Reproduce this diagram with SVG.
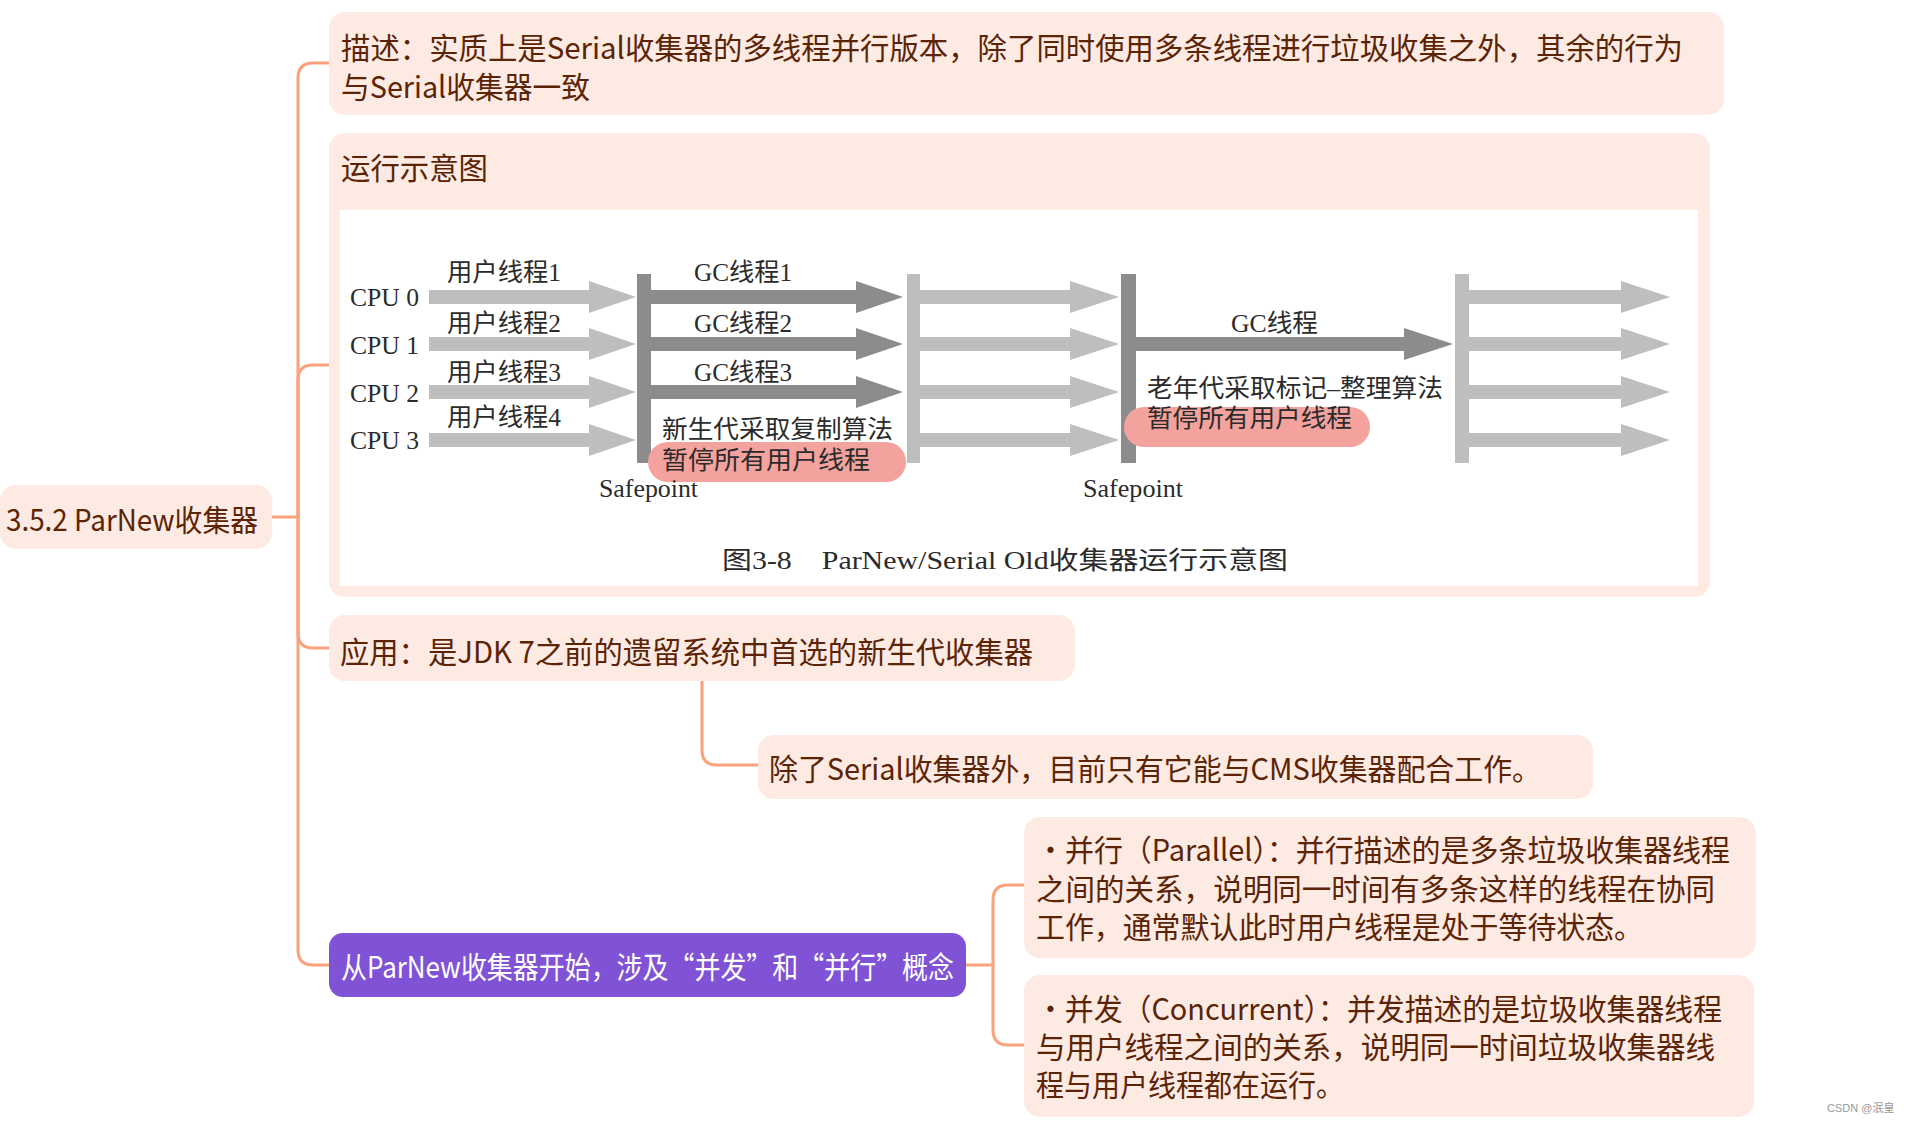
<svg xmlns="http://www.w3.org/2000/svg" width="1910" height="1131" viewBox="0 0 1910 1131">
<style>
.box{fill:#FDEAE2}
.t{font-family:"Noto Sans CJK SC","Noto Sans",sans-serif;font-size:30px;fill:#5B2406;dominant-baseline:central}
.w{fill:#ffffff}
.con{fill:none;stroke:#F9A27C;stroke-width:3;stroke-linecap:round}
.d{font-family:"Liberation Serif","Noto Sans CJK SC",serif;font-size:25px;fill:#2b2b2b;dominant-baseline:central}
.lg{fill:#BEBEBE}
.dg{fill:#8C8C8C}
.pk{fill:#F3A29E}
</style>
<rect width="1910" height="1131" fill="#ffffff"/>
<g id="connectors">
<path class="con" d="M272 517 H298"/>
<path class="con" d="M298 517 V78 Q298 63 313 63 H329"/>
<path class="con" d="M298 517 V380 Q298 365 313 365 H329"/>
<path class="con" d="M298 517 V633 Q298 648 313 648 H330"/>
<path class="con" d="M298 517 V950 Q298 965 313 965 H329"/>
<path class="con" d="M702 681 V750 Q702 765 717 765 H758"/>
<path class="con" d="M966 965 H993"/>
<path class="con" d="M993 965 V900 Q993 885 1008 885 H1024"/>
<path class="con" d="M993 965 V1030 Q993 1045 1008 1045 H1024"/>
</g>
<g id="root">
<rect class="box" x="0" y="485" width="272" height="64" rx="16"/>
<text class="t" x="6" y="518" font-size="28" textLength="252" lengthAdjust="spacingAndGlyphs">3.5.2 ParNew收集器</text>
</g>
<g id="desc">
<rect class="box" x="329" y="12" width="1395" height="103" rx="16"/>
<text class="t" x="341" y="46" textLength="1342" lengthAdjust="spacingAndGlyphs">描述：实质上是Serial收集器的多线程并行版本，除了同时使用多条线程进行垃圾收集之外，其余的行为</text>
<text class="t" x="341" y="85" textLength="249" lengthAdjust="spacingAndGlyphs">与Serial收集器一致</text>
</g>
<g id="figure">
<rect class="box" x="329" y="133" width="1381" height="464" rx="16"/>
<text class="t" x="341" y="166" textLength="147" lengthAdjust="spacingAndGlyphs">运行示意图</text>
<rect x="340" y="210" width="1358" height="376" fill="#ffffff"/>
<!-- user thread arrows -->
<g class="lg">
<path d="M429 290 H589 V281 L636 297 L589 313 V304 H429 Z"/>
<path d="M429 337 H589 V328 L636 344 L589 360 V351 H429 Z"/>
<path d="M429 385 H589 V376 L636 392 L589 408 V399 H429 Z"/>
<path d="M429 433 H589 V424 L636 440 L589 456 V447 H429 Z"/>
<rect x="907" y="274" width="13" height="189"/>
<path d="M920 290 H1070 V281 L1119 297 L1070 313 V304 H920 Z"/>
<path d="M920 337 H1070 V328 L1119 344 L1070 360 V351 H920 Z"/>
<path d="M920 385 H1070 V376 L1119 392 L1070 408 V399 H920 Z"/>
<path d="M920 433 H1070 V424 L1119 440 L1070 456 V447 H920 Z"/>
<rect x="1455" y="274" width="14" height="189"/>
<path d="M1469 290 H1621 V281 L1670 297 L1621 313 V304 H1469 Z"/>
<path d="M1469 337 H1621 V328 L1670 344 L1621 360 V351 H1469 Z"/>
<path d="M1469 385 H1621 V376 L1670 392 L1621 408 V399 H1469 Z"/>
<path d="M1469 433 H1621 V424 L1670 440 L1621 456 V447 H1469 Z"/>
</g>
<g class="dg">
<rect x="637" y="274" width="14" height="189"/>
<path d="M651 290 H856 V281 L903 297 L856 313 V304 H651 Z"/>
<path d="M651 337 H856 V328 L903 344 L856 360 V351 H651 Z"/>
<path d="M651 385 H856 V376 L903 392 L856 408 V399 H651 Z"/>
<rect x="1121" y="274" width="15" height="189"/>
<path d="M1136 337 H1404 V328 L1453 344 L1404 360 V351 H1136 Z"/>
</g>
<rect class="pk" x="648" y="442" width="258" height="40" rx="20"/>
<rect class="pk" x="1124" y="407" width="246" height="40" rx="20"/>
<text class="d" x="350" y="297" textLength="69" lengthAdjust="spacingAndGlyphs">CPU 0</text>
<text class="d" x="350" y="345" textLength="69" lengthAdjust="spacingAndGlyphs">CPU 1</text>
<text class="d" x="350" y="393" textLength="69" lengthAdjust="spacingAndGlyphs">CPU 2</text>
<text class="d" x="350" y="440" textLength="69" lengthAdjust="spacingAndGlyphs">CPU 3</text>
<text class="d" x="447" y="272" textLength="114" lengthAdjust="spacingAndGlyphs">用户线程1</text>
<text class="d" x="447" y="323" textLength="114" lengthAdjust="spacingAndGlyphs">用户线程2</text>
<text class="d" x="447" y="372" textLength="114" lengthAdjust="spacingAndGlyphs">用户线程3</text>
<text class="d" x="447" y="417" textLength="114" lengthAdjust="spacingAndGlyphs">用户线程4</text>
<text class="d" x="694" y="272" textLength="98" lengthAdjust="spacingAndGlyphs">GC线程1</text>
<text class="d" x="694" y="323" textLength="98" lengthAdjust="spacingAndGlyphs">GC线程2</text>
<text class="d" x="694" y="372" textLength="98" lengthAdjust="spacingAndGlyphs">GC线程3</text>
<text class="d" x="662" y="429" textLength="231" lengthAdjust="spacingAndGlyphs">新生代采取复制算法</text>
<text class="d" x="662" y="460" textLength="208" lengthAdjust="spacingAndGlyphs">暂停所有用户线程</text>
<text class="d" x="599" y="488" textLength="99" lengthAdjust="spacingAndGlyphs">Safepoint</text>
<text class="d" x="1231" y="323" textLength="87" lengthAdjust="spacingAndGlyphs">GC线程</text>
<text class="d" x="1147" y="388" textLength="296" lengthAdjust="spacingAndGlyphs">老年代采取标记–整理算法</text>
<text class="d" x="1147" y="418" textLength="205" lengthAdjust="spacingAndGlyphs">暂停所有用户线程</text>
<text class="d" x="1083" y="488" textLength="100" lengthAdjust="spacingAndGlyphs">Safepoint</text>
<text class="d" x="722" y="560" font-size="28" textLength="566" lengthAdjust="spacingAndGlyphs">图3-8　ParNew/Serial Old收集器运行示意图</text>
</g>
<g id="usage">
<rect class="box" x="329" y="615" width="746" height="66" rx="16"/>
<text class="t" x="340" y="650" textLength="693" lengthAdjust="spacingAndGlyphs">应用：是JDK 7之前的遗留系统中首选的新生代收集器</text>
</g>
<g id="cms">
<rect class="box" x="758" y="735" width="835" height="64" rx="16"/>
<text class="t" x="769" y="767" textLength="772" lengthAdjust="spacingAndGlyphs">除了Serial收集器外，目前只有它能与CMS收集器配合工作。</text>
</g>
<g id="concept">
<rect x="329" y="933" width="637" height="64" rx="14" fill="#8052D6"/>
<text class="t w" x="341" y="965" textLength="613" lengthAdjust="spacingAndGlyphs">从ParNew收集器开始，涉及“并发”和“并行”概念</text>
</g>
<g id="parallel">
<rect class="box" x="1024" y="817" width="732" height="141" rx="16"/>
<text class="t" x="1036" y="848" textLength="694" lengthAdjust="spacingAndGlyphs">·并行（Parallel）：并行描述的是多条垃圾收集器线程</text>
<text class="t" x="1036" y="887" textLength="679" lengthAdjust="spacingAndGlyphs">之间的关系，说明同一时间有多条这样的线程在协同</text>
<text class="t" x="1036" y="925" textLength="607" lengthAdjust="spacingAndGlyphs">工作，通常默认此时用户线程是处于等待状态。</text>
</g>
<g id="concurrent">
<rect class="box" x="1024" y="975" width="730" height="142" rx="16"/>
<text class="t" x="1036" y="1007" textLength="686" lengthAdjust="spacingAndGlyphs">·并发（Concurrent）：并发描述的是垃圾收集器线程</text>
<text class="t" x="1036" y="1045" textLength="679" lengthAdjust="spacingAndGlyphs">与用户线程之间的关系，说明同一时间垃圾收集器线</text>
<text class="t" x="1036" y="1083" textLength="308" lengthAdjust="spacingAndGlyphs">程与用户线程都在运行。</text>
</g>
<text x="1827" y="1112" font-family="'Liberation Sans','Noto Sans CJK SC',sans-serif" font-size="11" fill="#999999">CSDN @泯皇</text>
</svg>
